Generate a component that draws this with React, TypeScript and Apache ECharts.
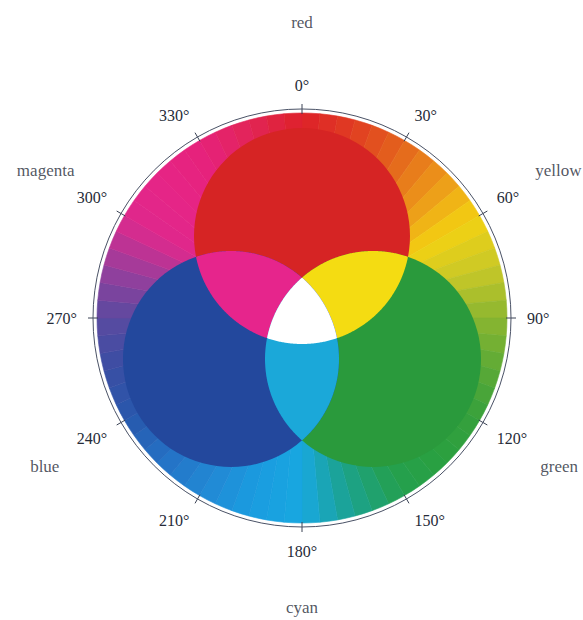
import React, { useEffect, useRef } from "react";
import * as echarts from "echarts";

// ---- data ----
// hue wheel key colours, every 15 degrees clockwise from the top (0° = red)
const wheelKeyAngles = [0, 15, 30, 45, 60, 75, 90, 105, 120, 135, 150, 165, 180, 195, 210, 225, 240, 255, 270, 285, 300, 315, 330, 345];
const wheelKeyColors = [
  "#de2229", "#e03c22", "#e4641c", "#ec961a", "#f3d112", "#c9c828",
  "#8cb630", "#5caa36", "#36a03c", "#2aa040", "#24a04e", "#1ca28c",
  "#18a8e0", "#1a9ce0", "#2288d4", "#2470c4", "#2858ac", "#3a4ea4",
  "#5a4aa0", "#9a3e9c", "#df288c", "#e62486", "#e6227a", "#e22456",
];
const wheelSliceDeg = 5;

// degree tick labels on the angle axis
const angleTickStep = 30;

// primary circles: [offset from centre, direction in degrees]
const circleNames = ["red", "green", "blue"];
const circleOffsets = [82, 82, 82];
const circleAngles = [0, 120, 240];
const circleRadius = 108;
const circleColors = ["#d62424", "#2a9a3c", "#23489d"];

// overlaps (indices into the circles)
const overlapSets = [[0, 1], [0, 2], [1, 2], [0, 1, 2]];
const overlapColors = ["#f4dc12", "#e6258c", "#1ba8d9", "#ffffff"];

// colour names around the wheel
const colorNames = ["red", "yellow", "green", "cyan", "blue", "magenta"];
const colorNameAngles = [0, 60, 120, 180, 240, 300];
const colorNameRadius = [296, 296, 297, 289, 297, 296];

// ---- helpers ----
function hexToRgb(h: string) {
  const n = parseInt(h.slice(1), 16);
  return [(n >> 16) & 255, (n >> 8) & 255, n & 255];
}
function mix(a: string, b: string, t: number) {
  const A = hexToRgb(a), B = hexToRgb(b);
  const c = A.map((v, i) => Math.round(v + (B[i] - v) * t));
  return `rgb(${c[0]},${c[1]},${c[2]})`;
}
function wheelColor(deg: number) {
  const step = wheelKeyAngles[1] - wheelKeyAngles[0];
  const k = Math.floor(deg / step) % wheelKeyColors.length;
  const t = (deg - wheelKeyAngles[k]) / step;
  return mix(wheelKeyColors[k], wheelKeyColors[(k + 1) % wheelKeyColors.length], t);
}

const CENTER = [302, 318];
const AXIS_R = 209;
const DISC_R = 205;
const textColor = "#262b38";
const serif = "'Liberation Serif', 'DejaVu Serif', serif";

export default function App() {
  const ref = useRef<HTMLDivElement>(null);
  useEffect(() => {
    if (!ref.current) return;
    const chart = echarts.init(ref.current, null, { renderer: "svg" });

    const nSlices = 360 / wheelSliceDeg;
    const sliceData = [];
    for (let i = 0; i < nSlices; i++) {
      const c = wheelColor(i * wheelSliceDeg + wheelSliceDeg / 2);
      sliceData.push({ value: 1, itemStyle: { color: c, borderColor: c, borderWidth: 0.6 } });
    }

    const centersPx = (api: any) =>
      circleOffsets.map((o, i) => api.coord([o, circleAngles[i]]));
    const radiusPx = (api: any) => {
      const o = api.coord([0, 0]);
      const p = api.coord([circleRadius, 0]);
      return Math.hypot(p[0] - o[0], p[1] - o[1]);
    };

    const hiddenRadius = (polarIndex: number) => ({
      type: "value",
      polarIndex,
      min: 0,
      max: AXIS_R,
      axisLine: { show: false },
      axisTick: { show: false },
      axisLabel: { show: false },
      splitLine: { show: false },
    });

    chart.setOption({
      animation: false,
      backgroundColor: "#ffffff",
      polar: [
        { center: CENTER, radius: AXIS_R },
        { center: CENTER, radius: AXIS_R },
      ],
      angleAxis: [
        {
          type: "value",
          polarIndex: 0,
          min: 0,
          max: 360,
          interval: angleTickStep,
          startAngle: 90,
          clockwise: true,
          axisLine: { show: true, lineStyle: { color: "#4a5266", width: 1 } },
          axisTick: { show: true, length: 5, lineStyle: { color: "#3a4254", width: 1 } },
          axisLabel: {
            show: true,
            margin: 16,
            formatter: "{value}°",
            fontFamily: serif,
            fontSize: 16,
            color: textColor,
          },
          splitLine: { show: false },
          z: 10,
        },
        {
          type: "value",
          polarIndex: 1,
          min: 0,
          max: 360,
          interval: angleTickStep,
          startAngle: 90,
          clockwise: true,
          axisLine: { show: false },
          axisTick: { show: true, inside: true, length: 5, lineStyle: { color: "#3a4254", width: 1 } },
          axisLabel: { show: false },
          splitLine: { show: false },
          z: 10,
        },
      ],
      radiusAxis: [hiddenRadius(0), hiddenRadius(1)],
      series: [
        {
          type: "pie",
          center: CENTER,
          radius: [0, DISC_R],
          startAngle: 90,
          clockwise: true,
          silent: true,
          label: { show: false },
          labelLine: { show: false },
          emphasis: { disabled: true },
          data: sliceData,
          z: 1,
        },
        {
          type: "custom",
          name: "circles",
          coordinateSystem: "polar",
          polarIndex: 0,
          silent: true,
          z: 3,
          data: circleNames.map((n, i) => [circleOffsets[i], circleAngles[i]]),
          renderItem: (params: any, api: any) => {
            const c = api.coord([api.value(0), api.value(1)]);
            return {
              type: "circle",
              shape: { cx: c[0], cy: c[1], r: radiusPx(api) },
              style: { fill: circleColors[params.dataIndex] },
            };
          },
        },
        {
          type: "custom",
          name: "overlaps",
          coordinateSystem: "polar",
          polarIndex: 0,
          silent: true,
          z: 4,
          data: overlapSets.map(() => [0, 0]),
          renderItem: (params: any, api: any) => {
            const set = overlapSets[params.dataIndex];
            const cs = centersPx(api);
            const R = radiusPx(api);
            const pts: number[][] = [];
            const N = 720;
            for (const i of set) {
              for (let k = 0; k < N; k++) {
                const a = (k / N) * Math.PI * 2;
                const x = cs[i][0] + R * Math.cos(a);
                const y = cs[i][1] + R * Math.sin(a);
                let inside = true;
                for (const j of set) {
                  if (j === i) continue;
                  if (Math.hypot(x - cs[j][0], y - cs[j][1]) > R + 0.01) { inside = false; break; }
                }
                if (inside) pts.push([x, y]);
              }
            }
            const mx = pts.reduce((s, p) => s + p[0], 0) / pts.length;
            const my = pts.reduce((s, p) => s + p[1], 0) / pts.length;
            pts.sort((p, q) => Math.atan2(p[1] - my, p[0] - mx) - Math.atan2(q[1] - my, q[0] - mx));
            return {
              type: "polygon",
              shape: { points: pts },
              style: { fill: overlapColors[params.dataIndex] },
            };
          },
        },
        {
          type: "scatter",
          coordinateSystem: "polar",
          polarIndex: 0,
          silent: true,
          clip: false,
          symbolSize: 0,
          z: 5,
          data: colorNames.map((n, i) => ({ name: n, value: [colorNameRadius[i], colorNameAngles[i]] })),
          label: {
            show: true,
            position: "inside",
            formatter: (p: any) => p.name,
            fontFamily: serif,
            fontSize: 17,
            color: textColor,
          },
        },
      ],
    });
    return () => chart.dispose();
  }, []);

  return (
    <div
      ref={ref}
      style={{ position: "fixed", left: 0, top: 0, width: 583, height: 620, background: "#fff" }}
    />
  );
}
